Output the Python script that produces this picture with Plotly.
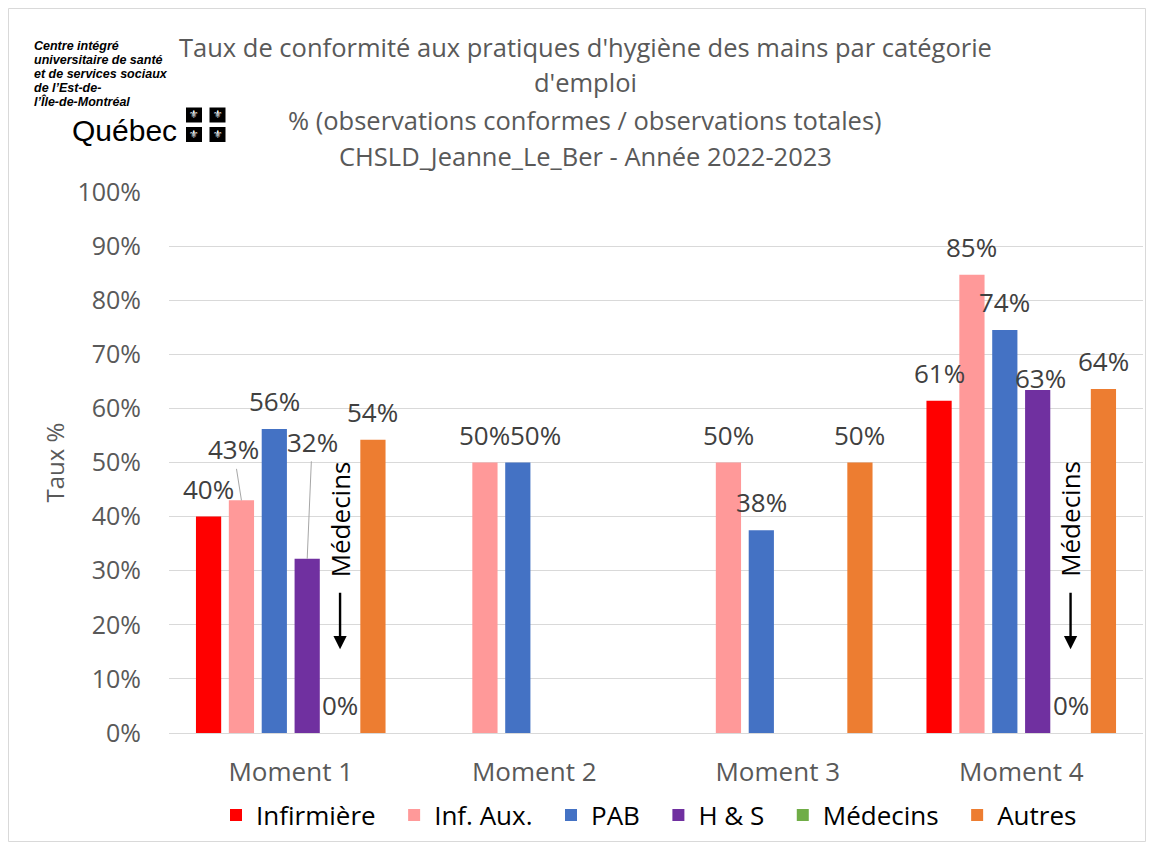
import plotly.graph_objects as go

categories = ["Moment 1", "Moment 2", "Moment 3", "Moment 4"]
series_names = ["Infirmière", "Inf. Aux.", "PAB", "H & S", "Médecins", "Autres"]
infirmiere = [0.40, None, None, 0.614]
inf_aux = [0.43, 0.50, 0.50, 0.847]
pab = [0.562, 0.50, 0.375, 0.745]
hs = [0.322, None, None, 0.634]
medecins = [0.0, None, None, 0.0]
autres = [0.542, None, 0.50, 0.636]
colors = ["#FF0000", "#FF9999", "#4472C4", "#7030A0", "#70AD47", "#ED7D31"]
y_ticks = [i / 10 for i in range(11)]
title_lines = [
    "Taux de conformité aux pratiques d'hygiène des mains par catégorie",
    "d'emploi",
    "% (observations conformes / observations totales)",
    "CHSLD_Jeanne_Le_Ber - Année 2022-2023",
]
logo_lines = ["Centre intégré", "universitaire de santé", "et de services sociaux",
              "de l’Est-de-", "l’Île-de-Montréal"]

all_series = [infirmiere, inf_aux, pab, hs, medecins, autres]

OFF = 8  # page offset of the figure
W, H = 1138, 834
L, R, T, B = 161, 3, 184, 109
PW, PH = W - L - R, H - T - B
BARGAP = 0.19


def px(x):  # page pixel -> paper x
    return (x - OFF - L) / PW


def py(y):  # page pixel -> paper y
    return (H - B - (y - OFF)) / PH


def offset(k):
    return (k - 2.5) * (1 - BARGAP) / 6


fig = go.Figure()
n = len(series_names)
for idx, (name, vals, col) in enumerate(zip(series_names, all_series, colors)):
    legend_label = name + ("\u00a0\u00a0" if idx < n - 1 else "")
    fig.add_trace(go.Bar(name=legend_label, x=categories, y=vals, marker_color=col,
                         marker_line_width=0))

ann = []
label_font = dict(family="Open Sans", size=26, color="#404040")
# data labels: (moment, series) -> leader-line offsets or shifts
leaders = {(0, 1): (-8, -51), (0, 3): (5, -117)}
shifts = {(3, 3): (3, 12), (1, 2): (18, 28)}
for k, vals in enumerate(all_series):
    for i, v in enumerate(vals):
        if v is None:
            continue
        xs = i + offset(k)
        txt = f"{round(v * 100)}%"
        if (i, k) in leaders:
            ax, ay = leaders[(i, k)]
            ann.append(dict(x=xs, y=v, xref="x", yref="y", text=txt,
                            showarrow=True, arrowhead=0, arrowwidth=1, arrowcolor="#A6A6A6",
                            ax=ax, ay=ay, standoff=0, font=label_font))
        else:
            xsh, ysh = shifts.get((i, k), (0, 28))
            ann.append(dict(x=xs, y=v, xref="x", yref="y", text=txt,
                            showarrow=False, xshift=xsh, yshift=ysh, font=label_font))

# Médecins notes with arrows
for i in (0, 3):
    xs = i + offset(4)
    ann.append(dict(x=xs, y=0.395, xref="x", yref="y", text="Médecins", textangle=-90,
                    showarrow=False, font=dict(family="Open Sans", size=26, color="#000000")))
    ann.append(dict(x=xs, y=0.155, xref="x", yref="y", text="", showarrow=True,
                    arrowhead=2, arrowsize=1.1, arrowwidth=2.4, arrowcolor="#000000",
                    ax=0, ay=-58, standoff=0))

# title lines
for line, yc, in zip(title_lines, [47, 82, 120, 156]):
    ann.append(dict(x=px(585), y=py(yc), xref="paper", yref="paper", text=line,
                    showarrow=False, xanchor="center", yanchor="middle",
                    font=dict(family="Open Sans", size=25.5, color="#595959")))

# logo
for j, line in enumerate(logo_lines):
    ann.append(dict(x=px(32), y=py(46 + j * 14), xref="paper", yref="paper",
                    text=f"<b><i>{line}</i></b>", showarrow=False, xanchor="left",
                    yanchor="middle", font=dict(family="Liberation Sans", size=12.5, color="#000000")))
ann.append(dict(x=px(70), y=py(130), xref="paper", yref="paper", text="Québec",
                showarrow=False, xanchor="left", yanchor="middle",
                font=dict(family="Liberation Sans Narrow, Liberation Sans", size=30, color="#000000")))
shapes = []
for cx in (194, 217.5):
    for cy in (115, 134.5):
        shapes.append(dict(type="rect", xref="paper", yref="paper",
                           x0=px(cx - 8), x1=px(cx + 8), y0=py(cy + 7.5), y1=py(cy - 7.5),
                           fillcolor="#000000", line_width=0))
        ann.append(dict(x=px(cx), y=py(cy), xref="paper", yref="paper", text="⚜",
                        showarrow=False, xanchor="center", yanchor="middle",
                        font=dict(family="DejaVu Sans", size=11, color="#FFFFFF")))

# outer border
shapes.append(dict(type="rect", xref="paper", yref="paper", x0=px(8.5), x1=px(1145.5),
                   y0=py(841.5), y1=py(8.5), line=dict(color="#D9D9D9", width=1),
                   fillcolor="rgba(0,0,0,0)", layer="below"))

fig.update_layout(
    width=W, height=H,
    margin=dict(l=L, r=R, t=T, b=B, autoexpand=False),
    paper_bgcolor="white", plot_bgcolor="white",
    barmode="group", bargap=BARGAP, bargroupgap=0.233,
    font=dict(family="Open Sans", color="#595959"),
    showlegend=True,
    legend=dict(orientation="h", x=px(649), xanchor="center",
                y=py(815), yanchor="middle",
                font=dict(family="Open Sans", size=26, color="#000000"),
                tracegroupgap=0),
    annotations=ann, shapes=shapes,
)
fig.update_yaxes(range=[0, 1.0], tickvals=y_ticks, tickformat=".0%",
                 gridcolor="#D9D9D9", gridwidth=1, zeroline=False,
                 tickfont=dict(family="Open Sans", size=25, color="#595959"),
                 ticklabelstandoff=27,
                 title=dict(text="Taux %", font=dict(family="Open Sans", size=24, color="#595959"),
                            standoff=6),
                 ticks="", showline=False)
fig.update_xaxes(showline=True, linecolor="#D9D9D9", linewidth=1, ticks="", tickangle=0,
                 ticklabelstandoff=16,
                 tickfont=dict(family="Open Sans", size=26, color="#595959"))

fig.write_html("out.html")
